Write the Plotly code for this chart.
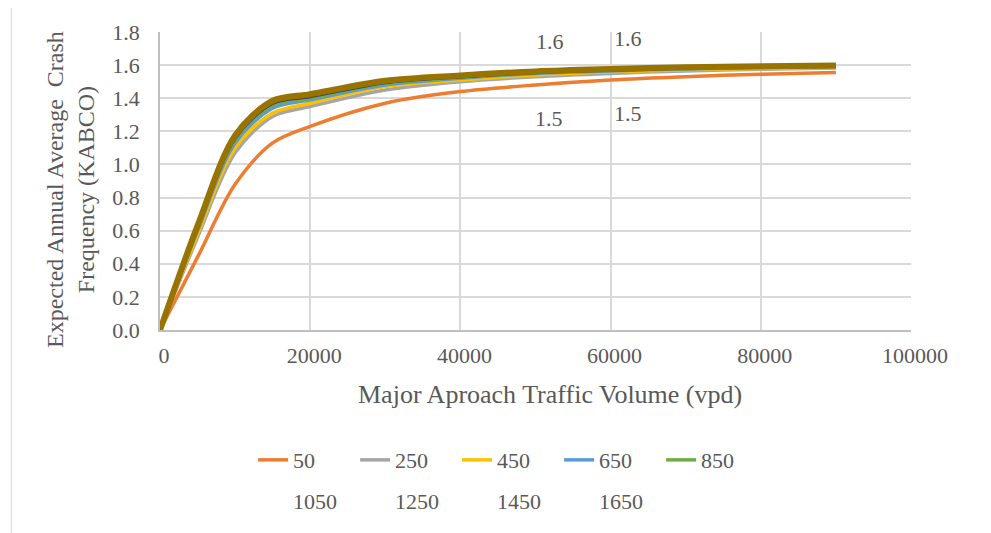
import plotly.graph_objects as go

volume = [0, 5000, 10000, 15000, 20000, 30000, 40000, 50000, 60000, 70000, 80000, 90000]
series_names = ["50", "250", "450", "650", "850", "1050", "1250", "1450", "1650"]
v50   = [0, 0.44, 0.88, 1.13, 1.23, 1.37, 1.44, 1.48, 1.51, 1.53, 1.545, 1.555]
v250  = [0, 0.56, 1.07, 1.29, 1.35, 1.45, 1.50, 1.53, 1.55, 1.565, 1.575, 1.583]
v450  = [0, 0.58, 1.10, 1.31, 1.37, 1.47, 1.51, 1.54, 1.56, 1.572, 1.580, 1.587]
v650  = [0, 0.60, 1.13, 1.34, 1.39, 1.48, 1.52, 1.55, 1.565, 1.577, 1.585, 1.590]
v850  = [0, 0.61, 1.15, 1.36, 1.40, 1.49, 1.525, 1.553, 1.568, 1.580, 1.588, 1.592]
v1050 = [0, 0.62, 1.16, 1.37, 1.41, 1.495, 1.53, 1.556, 1.570, 1.582, 1.590, 1.594]
v1250 = [0, 0.62, 1.165, 1.375, 1.415, 1.50, 1.533, 1.558, 1.572, 1.584, 1.591, 1.595]
v1450 = [0, 0.625, 1.17, 1.38, 1.42, 1.503, 1.536, 1.560, 1.574, 1.585, 1.592, 1.596]
v1650 = [0, 0.63, 1.175, 1.385, 1.425, 1.506, 1.538, 1.562, 1.576, 1.587, 1.593, 1.597]
all_values = [v50, v250, v450, v650, v850, v1050, v1250, v1450, v1650]
colors = ["#ED7D31", "#A5A5A5", "#FFC000", "#5B9BD5", "#70AD47",
          "#264478", "#9E480E", "#636363", "#997300"]
widths = [3.5, 3.5, 3.5, 3.5, 3.5, 3.5, 3.5, 3.5, 6]

label_x = [51930, 62320, 51800, 62320]
label_y = [1.74, 1.758, 1.28, 1.305]
label_text = ["1.6", "1.6", "1.5", "1.5"]

FONT = "Liberation Serif, Times New Roman, serif"
TXT = "#595959"
fig = go.Figure()
for i, (name, vals) in enumerate(zip(series_names, all_values)):
    fig.add_trace(go.Scatter(
        x=volume, y=vals, mode="lines", name=name,
        line=dict(color=colors[i], width=widths[i], shape="spline", smoothing=0.9),
        showlegend=(i < 5), legend="legend"))
for i in range(5, 9):
    fig.add_trace(go.Scatter(
        x=[None], y=[None], mode="lines", name=series_names[i],
        line=dict(color="rgba(0,0,0,0)", width=3), legend="legend2"))

for lx, ly, lt in zip(label_x, label_y, label_text):
    fig.add_annotation(x=lx, y=ly, text=lt, showarrow=False, xref="x", yref="y",
                       font=dict(family=FONT, size=22, color=TXT))

fig.add_annotation(xref="paper", yref="paper", x=-0.1185, y=0.47,
                   xanchor="center", yanchor="middle",
                   text="Expected Annual Average  Crash<br>Frequency (KABCO)",
                   textangle=-90, showarrow=False,
                   font=dict(family=FONT, size=24, color=TXT))
fig.add_annotation(xref="paper", yref="paper", x=0.519, y=-0.218,
                   xanchor="center", yanchor="middle",
                   text="Major Aproach Traffic Volume (vpd)", showarrow=False,
                   font=dict(family=FONT, size=26, color=TXT))

fig.add_shape(type="rect", xref="paper", yref="paper",
              x0=-0.198, x1=1.12, y0=-0.75, y1=1.09,
              line=dict(color="#D9D9D9", width=1))

fig.update_layout(
    width=991, height=533,
    margin=dict(l=152, r=88, t=24, b=211),
    paper_bgcolor="white", plot_bgcolor="white",
    font=dict(family=FONT, size=22, color=TXT),
    xaxis=dict(range=[0, 100000], dtick=20000, tickformat="d",
               showgrid=True, gridcolor="#D9D9D9", gridwidth=1.5,
               showline=True, linecolor="#BFBFBF", linewidth=1.5,
               zeroline=False, ticks="", ticklabelshift=4, ticklabelstandoff=5,
               tickfont=dict(family=FONT, size=22, color=TXT)),
    yaxis=dict(range=[0, 1.8], dtick=0.2, tickformat=".1f",
               showgrid=True, gridcolor="#D9D9D9", gridwidth=1.5,
               showline=True, linecolor="#BFBFBF", linewidth=1.5,
               zeroline=False, ticks="", ticklabelstandoff=14,
               tickfont=dict(family=FONT, size=22, color=TXT)),
    legend=dict(orientation="h", x=0.124, y=-0.366, xanchor="left", yanchor="top",
                entrywidth=57, entrywidthmode="pixels",
                font=dict(family=FONT, size=22, color=TXT), bgcolor="rgba(0,0,0,0)"),
    legend2=dict(orientation="h", x=0.124, y=-0.503, xanchor="left", yanchor="top",
                 entrywidth=57, entrywidthmode="pixels",
                 font=dict(family=FONT, size=22, color=TXT), bgcolor="rgba(0,0,0,0)"),
)

fig.write_html("out.html")
